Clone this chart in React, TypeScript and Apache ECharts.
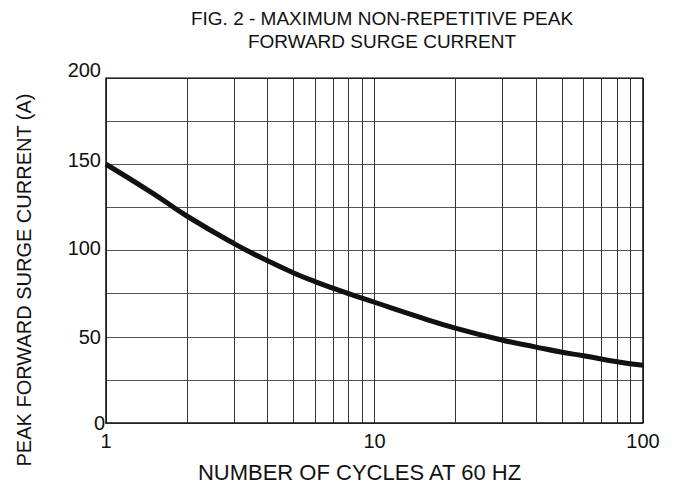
import React, { useEffect, useRef } from "react";
import * as echarts from "echarts";

const cycles = [1, 1.5, 2, 3, 4, 5, 6, 8, 10, 15, 20, 30, 40, 50, 60, 80, 100];
const current = [150, 133, 120, 104, 94, 87, 82, 75, 70, 61, 55, 48, 44, 41, 39, 35.5, 33.5];
const minorGrid = [2, 3, 4, 5, 6, 7, 8, 9, 20, 30, 40, 50, 60, 70, 80, 90];
const yLabels = [0, 50, 100, 150, 200];
const titleLines = ["FIG. 2 - MAXIMUM NON-REPETITIVE PEAK", "FORWARD SURGE CURRENT"];
const xName = "NUMBER OF CYCLES AT 60 HZ";
const yName = "PEAK FORWARD SURGE CURRENT (A)";

const FONT = "'Liberation Sans', Arial, sans-serif";

export default function App() {
  const ref = useRef<HTMLDivElement>(null);
  useEffect(() => {
    const chart = echarts.init(ref.current!, null, { renderer: "svg" });
    chart.setOption({
      animation: false,
      backgroundColor: "#fff",
      title: {
        text: titleLines.join("\n"),
        left: 377,
        textAlign: "center",
        top: 2,
        textStyle: { fontFamily: FONT, fontSize: 19, fontWeight: "normal", color: "#111", lineHeight: 23 },
      },
      grid: { left: 106, right: 34, top: 78, bottom: 64 },
      graphic: [
        {
          type: "text",
          x: 14,
          y: 280,
          rotation: Math.PI / 2,
          style: {
            text: yName,
            fontFamily: FONT,
            fontSize: 20,
            fill: "#111",
            align: "center",
            verticalAlign: "top",
          },
        },
      ],
      xAxis: {
        type: "log",
        logBase: 10,
        min: 1,
        max: 100,
        name: xName,
        nameLocation: "middle",
        nameGap: 38,
        nameTextStyle: { fontFamily: FONT, fontSize: 22, color: "#111", padding: [0, 30, 0, 0] },
        axisLine: { show: true, lineStyle: { color: "#111", width: 1.5 } },
        axisTick: { show: false },
        axisLabel: { fontFamily: FONT, fontSize: 20, color: "#111", margin: 8 },
        splitLine: { show: true, lineStyle: { color: "#333", width: 1 } },
      },
      yAxis: {
        type: "value",
        min: 0,
        max: 200,
        interval: 25,
        axisLine: { show: true, lineStyle: { color: "#111", width: 1.5 } },
        axisTick: { show: false },
        axisLabel: {
          fontFamily: FONT,
          fontSize: 20,
          color: "#111",
          margin: 5,
          formatter: (v: number) => (yLabels.includes(v) ? `{v${v}|${v}}` : ""),
          rich: {
            v0: { fontFamily: FONT, fontSize: 20, color: "#111", padding: [0, -4, 0, 0] },
            v50: { fontFamily: FONT, fontSize: 20, color: "#111", padding: [0, 0, 0, 0] },
            v100: { fontFamily: FONT, fontSize: 20, color: "#111", padding: [0, 0, 6, 0] },
            v150: { fontFamily: FONT, fontSize: 20, color: "#111", padding: [0, 0, 8, 0] },
            v200: { fontFamily: FONT, fontSize: 20, color: "#111", padding: [0, 0, 16, 0] },
          },
        },
        splitLine: { show: true, lineStyle: { color: "#555", width: 1 } },
      },
      series: [
        {
          type: "line",
          data: cycles.map((c, i) => [c, current[i]]),
          smooth: true,
          showSymbol: false,
          lineStyle: { color: "#111", width: 5 },
          markLine: {
            silent: true,
            symbol: "none",
            label: { show: false },
            lineStyle: { color: "#333", width: 1, type: "solid" },
            data: minorGrid.map((v) => ({ xAxis: v })),
          },
          z: 5,
        },
        {
          type: "line",
          data: [[100, 0], [100, 200]],
          showSymbol: false,
          lineStyle: { color: "#111", width: 1.5 },
          z: 1,
        },
        {
          type: "line",
          data: [[1, 200], [100, 200]],
          showSymbol: false,
          lineStyle: { color: "#111", width: 1.5 },
          z: 1,
        },
      ],
    });
    return () => chart.dispose();
  }, []);
  return <div ref={ref} style={{ width: 677, height: 488, position: "absolute", left: 0, top: 0 }} />;
}
